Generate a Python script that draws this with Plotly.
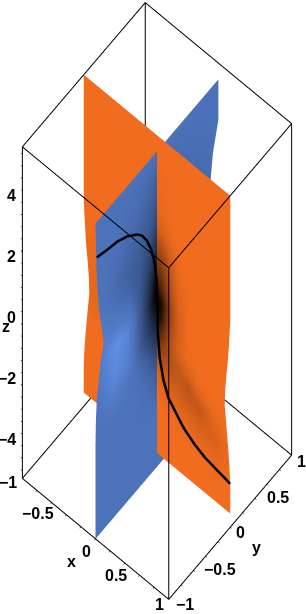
import math
import plotly.graph_objects as go

# ---- data ----
blue_u = [-1, -.85, -.7, -.5, -.3, -.15, -.05, 0, .05, .15, .4, 1]
blue_z = [4.92, 3.6, 2.7, 2.0, 1.4, 0.7, 0.12, -0.9, -1.6, -2.3, -3.5, -5.45]
blue_w_neg = [1, .99, .97, .945, .91, .866, .92, .98, .995, 1, 1, 1]
blue_w_pos = [1, 1, .91, .876, .87, .88, .92, .97, 1, 1, 1, 1]
blue_shade = [
 [.70,.70,.70,.70,.70,.70,.70,.70,.70,.70,.70,.70],
 [.70,.70,.70,.68,.66,.62,.58,.55,.60,.62,.66,.70],
 [.70,.70,.68,.64,.60,.56,.50,.45,.50,.56,.62,.68],
 [.72,.70,.66,.60,.56,.48,.38,.32,.40,.50,.60,.66],
 [.76,.72,.68,.62,.54,.42,.28,.20,.30,.45,.60,.68],
 [.82,.80,.78,.72,.52,.32,.12,.05,.15,.40,.60,.70],
 [.80,.92,1.0,.86,.55,.30,.05,.02,.10,.40,.60,.70],
 [.72,.82,.92,.85,.60,.42,.30,.25,.30,.50,.65,.70],
 [.70,.74,.78,.74,.68,.58,.45,.40,.45,.60,.68,.70],
 [.70,.70,.70,.70,.70,.66,.60,.55,.60,.66,.70,.70],
 [.70,.70,.70,.70,.70,.70,.70,.70,.70,.70,.70,.70],
 [.70,.70,.70,.70,.70,.70,.70,.70,.70,.70,.70,.70],
]
orange_u = [-1, -.5, -.2, -.05, 0, .05, .11, .18, .3, .45, .6, .8, 1]
orange_z = [5.45, 3, 2.4, 1.3, .6, 0, -.5, -1.1, -1.6, -2.0, -2.4, -3, -3.5, -4, -5]
orange_w = [1, 1, 1, 1, .985, .97, .95, .93, .925, .94, .955, .975, .99, 1, 1]
orange_shade = [
 [1,1,1,1,1,1,1,1,1,1,1,1,1],
 [1,1,1,.98,.97,.97,.98,.99,1,1,1,1,1],
 [1,1,1,.95,.90,.88,.92,.96,1,1,1,1,1],
 [1,1,.95,.70,.55,.55,.65,.80,.96,1,1,1,1],
 [1,1,.90,.45,.30,.35,.50,.72,.92,1,1,1,1],
 [.97,.98,.85,.20,.05,.08,.32,.62,.88,1,1,1,1],
 [.97,.97,.85,.30,.10,.15,.38,.65,.88,.99,1,1,1],
 [.95,.96,.90,.55,.40,.42,.55,.72,.90,.98,1,1,1],
 [.95,.97,.95,.80,.70,.65,.66,.74,.80,.90,.98,1,1],
 [.96,.98,1,.92,.85,.80,.78,.80,.82,.78,.90,.98,1],
 [1,1,1,1,.95,.90,.88,.88,.86,.82,.80,.94,1],
 [1,1,1,1,1,.98,.96,.95,.94,.92,.89,.90,.97],
 [1,1,1,1,1,1,1,1,.98,.97,.95,.94,.98],
 [1,1,1,1,1,1,1,1,1,1,1,.98,1],
 [1,1,1,1,1,1,1,1,1,1,1,1,1],
]
curve_x = [0, 0, 0, 0, 0, 0, 0, 0, 0, 0, 0, .008, .008, .036, .09, .159, .36, .51, .66, .84, 1]
curve_y = [-.979, -.806, -.645, -.484, -.323, -.242, -.161, -.097, -.044, -.011, 0, 0, 0, 0, 0, 0, 0, 0, 0, 0, 0]
curve_z = [3.75, 3.60, 3.48, 3.27, 2.95, 2.72, 2.36, 1.93, 1.42, .79, .3, -.08, -.86, -1.79, -2.44, -2.89, -3.44, -3.69, -3.85, -3.94, -4.02]

box_x = [-1, 1]
box_y = [-1, 1]
box_z = [-5.45, 5.45]
z_ticks = [-4, -2, 0, 2, 4]
z_minor = [-5.2, -4.8, -4.4, -4, -3.6, -3.2, -2.8, -2.4, -2, -1.6, -1.2, -.8, -.4, 0, .4, .8, 1.2, 1.6, 2, 2.4, 2.8, 3.2, 3.6, 4, 4.4, 4.8, 5.2]
xy_minor = [-.8, -.6, -.4, -.2, 0, .2, .4, .6, .8]
x_labels = [(-1, "\u22121"), (-.5, "\u22120.5"), (0, "0"), (.5, "0.5"), (1, "1")]
y_labels = [(-1, "\u22121"), (-.5, "\u22120.5"), (0, "0"), (.5, "0.5"), (1, "1")]

# ---- view ----
AZ = math.radians(-50)
EL = math.radians(80)
R = 10.0
XR = 1.25
ZR = 5.6
SX = .3175   # scene units per x/y data unit
SZ = .582    # scene units per z data unit
T = 0.15     # how far the curve floats towards the viewer, in scene units
LX = T * math.cos(AZ) * math.cos(EL) / SX
LY = T * math.sin(AZ) * math.cos(EL) / SX
LZ = T * math.sin(EL) / SZ

fig = go.Figure()

# surfaces
bx, by, bz = [], [], []
for i, z in enumerate(blue_z):
    bx.append([0.0 for _ in blue_u])
    by.append([u * (blue_w_neg[i] if u < 0 else blue_w_pos[i]) for u in blue_u])
    bz.append([z for _ in blue_u])
flat = dict(ambient=1, diffuse=0, specular=0, roughness=1, fresnel=0)
fig.add_trace(go.Surface(x=bx, y=by, z=bz, surfacecolor=blue_shade, cmin=0, cmax=1,
                         colorscale=[[0, "#000000"], [.7, "#4C72BA"], [1, "#5F90E6"]],
                         showscale=False, lighting=flat, hoverinfo="skip"))
ox, oy, oz = [], [], []
for i, z in enumerate(orange_z):
    ox.append([u * orange_w[i] for u in orange_u])
    oy.append([0.0 for _ in orange_u])
    oz.append([z for _ in orange_u])
fig.add_trace(go.Surface(x=ox, y=oy, z=oz, surfacecolor=orange_shade, cmin=0, cmax=1,
                         colorscale=[[0, "#000000"], [1, "#F16C1E"]],
                         showscale=False, lighting=flat, hoverinfo="skip"))
# curve
fig.add_trace(go.Scatter3d(x=[v + LX for v in curve_x], y=[v + LY for v in curve_y], z=[v + LZ for v in curve_z],
                           mode="lines", line=dict(color="black", width=5), hoverinfo="skip"))
# box
ex, ey, ez = [], [], []
x0, x1 = box_x; y0, y1 = box_y; z0, z1 = box_z
for z in box_z:
    ex += [x0, x1, x1, x0, x0, None]; ey += [y0, y0, y1, y1, y0, None]; ez += [z] * 5 + [None]
for x in box_x:
    for y in box_y:
        ex += [x, x, None]; ey += [y, y, None]; ez += [z0, z1, None]
fig.add_trace(go.Scatter3d(x=ex, y=ey, z=ez, mode="lines", line=dict(color="black", width=2), hoverinfo="skip"))
# tick marks
tx, ty, tz = [], [], []
for z in z_minor:
    tx += [x0, x0 - .02, None]; ty += [y0, y0, None]; tz += [z, z, None]
for v in xy_minor:
    tx += [v, v, None]; ty += [y0, y0 - .02, None]; tz += [z0, z0, None]
    tx += [x1, x1 + .02, None]; ty += [v, v, None]; tz += [z0, z0, None]
fig.add_trace(go.Scatter3d(x=tx, y=ty, z=tz, mode="lines", line=dict(color="black", width=1), hoverinfo="skip"))

# labels
font = dict(family="Liberation Sans", size=16, color="black")
ann = []
def label(x, y, z, text, dx, dy, anchor="center"):
    ann.append(dict(x=x, y=y, z=z, text=f"<b>{text}</b>", showarrow=False, xshift=dx, yshift=dy,
                    xanchor=anchor, yanchor="middle", font=font))
for t in z_ticks:
    label(x0, y0, t, str(t).replace("-", "\u2212"), -4, -5, "right")
off_x = {-1: (-14, -4), -.5: (-21, -5), 0: (-9, -13), .5: (-16, -6), 1: (-9, -5)}
for v, t in x_labels:
    label(v, y0, z0, t, off_x[v][0], off_x[v][1])
off_y = {-1: (16, -5), -.5: (21, -6), 0: (10, -5), .5: (17, -6), 1: (10, -6)}
for v, t in y_labels:
    label(x1, v, z0, t, off_y[v][0], off_y[v][1])
label(0, y0, z0, "x", -24, -23)
label(x1, 0, z0, "y", 26, -20)
label(x0, y0, 0, "z", -16, -14)

ax = dict(visible=False, showgrid=False, zeroline=False, showspikes=False, autorange=False)
fig.update_layout(
    width=306, height=614, margin=dict(l=0, r=0, t=0, b=0), showlegend=False,
    paper_bgcolor="white",
    scene=dict(
        domain=dict(x=[.0254, 1], y=[.0195, 1]),
        xaxis=dict(ax, range=[-XR, XR]),
        yaxis=dict(ax, range=[-XR, XR]),
        zaxis=dict(ax, range=[-ZR, ZR]),
        aspectmode="manual", aspectratio=dict(x=SX * 2 * XR, y=SX * 2 * XR, z=SZ * 2 * ZR),
        camera=dict(projection=dict(type="orthographic"), up=dict(x=0, y=0, z=1),
                    center=dict(x=0, y=0, z=0),
                    eye=dict(x=R * math.cos(AZ) * math.cos(EL), y=R * math.sin(AZ) * math.cos(EL), z=R * math.sin(EL))),
        annotations=ann,
    ),
)
fig.write_html("out.html", post_script="document.body.style.margin='0';", config=dict(displayModeBar=False))
